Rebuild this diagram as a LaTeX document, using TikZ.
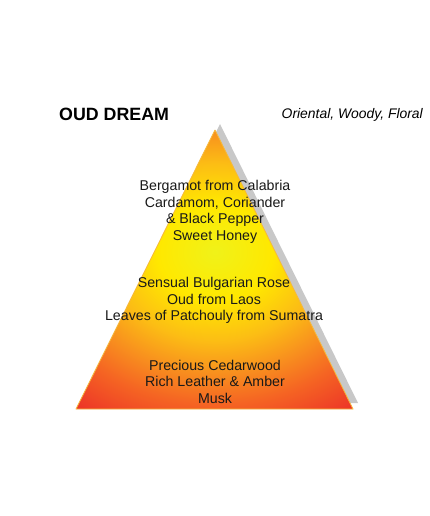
\documentclass[tikz,border=0pt]{standalone}
\usepackage{fontspec}
\setmainfont{Liberation Sans}
\definecolor{shadowgray}{RGB}{200,200,200}
\definecolor{edgeorange}{RGB}{246,185,60}
\pgfdeclareradialshading{pyramidshade}{\pgfpoint{0bp}{0bp}}{%
  color(0bp)=(rgb,255:red,240;green,242;blue,25);
  color(6bp)=(rgb,255:red,255;green,232;blue,0);
  color(11bp)=(rgb,255:red,252;green,190;blue,20);
  color(15bp)=(rgb,255:red,248;green,145;blue,30);
  color(19bp)=(rgb,255:red,245;green,100;blue,35);
  color(25bp)=(rgb,255:red,235;green,45;blue,40);
  color(50bp)=(rgb,255:red,235;green,45;blue,40)}
\tikzset{
  notes/.style={align=center, font=\fontsize{14.2}{16.5}\selectfont, text=black!90, inner sep=0pt},
}
\begin{document}
\begin{tikzpicture}[x=1pt,y=-1pt]
\useasboundingbox (0,0) rectangle (430,516);
\fill[white] (0,0) rectangle (430,516);
% shadow
\fill[shadowgray] (220,124) -- (358,403) -- (81,403) -- cycle;
% pyramid
\begin{scope}
\clip (215,130) -- (353,409) -- (76,409) -- cycle;
\shade[shading=pyramidshade] (215,252) ellipse [x radius=240, y radius=200];
\end{scope}
\draw[edgeorange, line width=0.8pt, line join=round] (215,130) -- (353,409) -- (76,409) -- cycle;
% titles
\node[anchor=west, inner sep=0pt, font=\fontsize{17.8}{20}\selectfont\bfseries] (title) at (59,114) {OUD DREAM};
\node[anchor=east, inner sep=0pt, font=\fontsize{13.9}{16}\selectfont\itshape] (family) at (423,115) {Oriental, Woody, Floral};
% notes
\node[notes] (top) at (215,212) {Bergamot from Calabria\\Cardamom, Coriander\\\& Black Pepper\\Sweet Honey};
\node[notes] (heart) at (214,300.5) {Sensual Bulgarian Rose\\Oud from Laos\\Leaves of Patchouly from Sumatra};
\node[notes] (base) at (215,381.5) {Precious Cedarwood\\Rich Leather \& Amber\\Musk};
\end{tikzpicture}
\end{document}
